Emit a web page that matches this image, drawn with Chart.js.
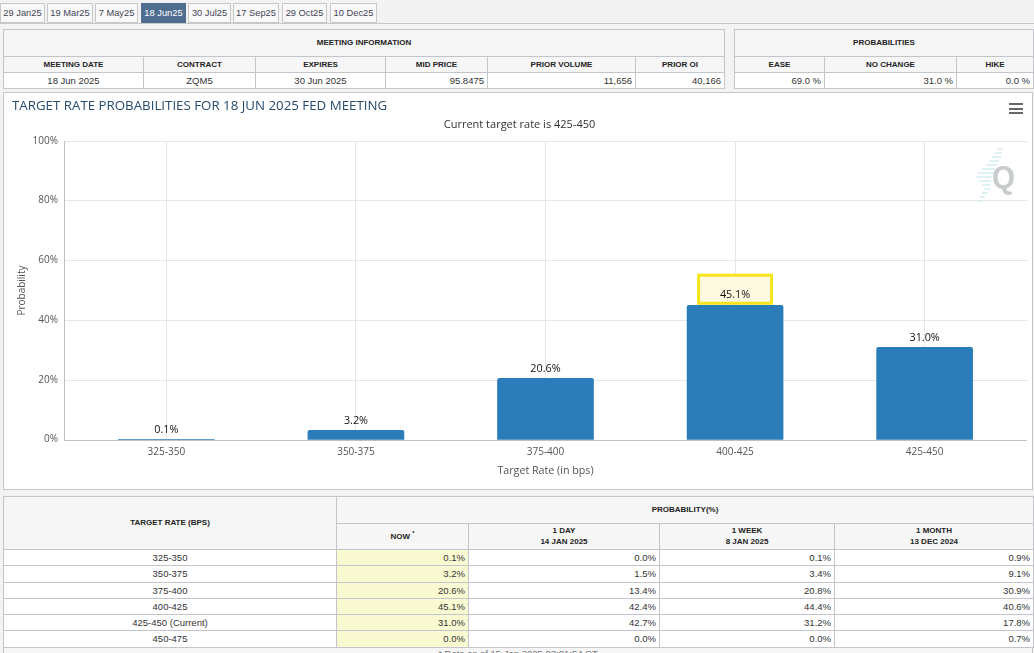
<!DOCTYPE html>
<html><head><meta charset="utf-8">
<script src="https://cdn.jsdelivr.net/npm/chart.js@4"></script>
<style>
html,body{margin:0;padding:0;width:1034px;height:653px;overflow:hidden;background:#f3f3f3;font-family:"Liberation Sans",Arial,sans-serif;color:#333}
.tab{position:absolute;top:3px;height:20px;box-sizing:border-box;border:1px solid #c8c8c8;background:#f8f8f8;font-size:9.3px;line-height:19px;text-align:center;color:#445}
.tab.on{background:#4f6d8f;color:#fff;border-color:#4f6d8f}
#rule{position:absolute;left:0;top:23px;width:1034px;height:1px;background:#c8c8c8}
table{position:absolute;border-collapse:collapse;table-layout:fixed;background:#fff}
td,th{border:1px solid #c3c5ca;padding:0 3px;font-size:9.5px;font-weight:normal;white-space:nowrap;overflow:hidden;box-sizing:border-box;line-height:11px}
th{background:#f6f6f6;font-weight:bold;font-size:8px;color:#222;text-align:center;padding-bottom:1px}
#t3 td{padding-bottom:1px}
td.c{text-align:center}td.r{text-align:right}td.n{background:#fafad2}
#panel{position:absolute;left:3px;top:92px;width:1030px;height:398px;box-sizing:border-box;border:1px solid #c3c5ca;background:#fff}
#wrap{position:absolute;left:12px;top:93px;width:1015px;height:396px}
#foot{position:absolute;left:3px;top:647px;width:1030px;height:12px;box-sizing:border-box;border:1px solid #c3c5ca;background:#f6f6f6;font-size:9.5px;line-height:11px;text-align:center;color:#777}
#menu{position:absolute;left:1009px;top:103px;width:14px}
#menu i{display:block;height:2px;background:#666;margin-bottom:2.5px}
#mark{position:absolute;left:973px;top:145px;width:44px;height:60px}
</style></head><body>
<div id="tabs"></div><div id="rule"></div>
<table id="t1" style="left:3px;top:29px;width:722px"></table>
<table id="t2" style="left:734px;top:29px;width:299px"></table>
<div id="panel"></div>
<div id="wrap"><canvas id="c" width="1015" height="396"></canvas></div>
<div id="menu"><i></i><i></i><i></i></div>
<svg id="mark" viewBox="0 0 44 60"><g stroke="#d3eef3" stroke-width="1.5"><path d="M24 4h6M22 8h7M19 12h9M16 16h10M13 20h11M9 24h13M5 28h16M3 32h16M6 36h12M9 40h8M11 44h6M9 48h6M7 52h5M5 56h4"/></g><text x="19" y="43" font-family="Liberation Sans" font-weight="bold" font-size="32" fill="#c9cccc" textLength="23" lengthAdjust="spacingAndGlyphs">Q</text></svg>
<table id="t3" style="left:3px;top:496px;width:1030px"></table>
<div id="foot">* Data as of 15 Jan 2025 03:01:54 CT</div>
<script>
const tabLabels=["29 Jan25","19 Mar25","7 May25","18 Jun25","30 Jul25","17 Sep25","29 Oct25","10 Dec25"];
const meetingHeaders=["MEETING DATE","CONTRACT","EXPIRES","MID PRICE","PRIOR VOLUME","PRIOR OI"];
const meetingValues=["18 Jun 2025","ZQM5","30 Jun 2025","95.8475","11,656","40,166"];
const probHeaders=["EASE","NO CHANGE","HIKE"];
const probValues=["69.0 %","31.0 %","0.0 %"];
const categories=["325-350","350-375","375-400","400-425","425-450"];
const probabilities=[0.1,3.2,20.6,45.1,31.0];
const tableRates=["325-350","350-375","375-400","400-425","425-450 (Current)","450-475"];
const nowCol=[0.1,3.2,20.6,45.1,31.0,0.0];
const dayCol=[0.0,1.5,13.4,42.4,42.7,0.0];
const weekCol=[0.1,3.4,20.8,44.4,31.2,0.0];
const monthCol=[0.9,9.1,30.9,40.6,17.8,0.7];
const highlighted=3;

const tabBoxes=[[0,45],[47,46],[95,43],[141,45],[188,43],[233,46],[282,45],[330,47]];
document.getElementById('tabs').innerHTML=tabLabels.map((t,i)=>`<div class="tab${i==highlighted?' on':''}" style="left:${tabBoxes[i][0]}px;width:${tabBoxes[i][1]}px">${t}</div>`).join('');
const cols=w=>'<colgroup>'+w.map(x=>`<col style="width:${x}px">`).join('')+'</colgroup>';
document.getElementById('t1').innerHTML=cols([140,112,130,102,148,89])+
 `<tr style="height:27px"><th colspan="6">MEETING INFORMATION</th></tr><tr style="height:16px">${meetingHeaders.map(h=>`<th>${h}</th>`).join('')}</tr>
  <tr style="height:16px">${meetingValues.map((v,i)=>`<td class="${i<3?'c':'r'}">${v}</td>`).join('')}</tr>`;
document.getElementById('t2').innerHTML=cols([90,132,77])+
 `<tr style="height:27px"><th colspan="3">PROBABILITIES</th></tr><tr style="height:16px">${probHeaders.map(h=>`<th>${h}</th>`).join('')}</tr>
  <tr style="height:16px">${probValues.map(v=>`<td class="r">${v}</td>`).join('')}</tr>`;
const f=v=>v.toFixed(1)+'%';
document.getElementById('t3').innerHTML=cols([333,132,191,175,199])+
 `<tr style="height:27px"><th rowspan="2">TARGET RATE (BPS)</th><th colspan="4">PROBABILITY(%)</th></tr>
  <tr style="height:26px"><th>NOW <sup style="font-size:6px;line-height:0">*</sup></th><th>1 DAY<br>14 JAN 2025</th><th>1 WEEK<br>8 JAN 2025</th><th>1 MONTH<br>13 DEC 2024</th></tr>`+
 tableRates.map((r,i)=>`<tr style="height:${[16,17,16,16,16,17][i]}px"><td class="c">${r}</td><td class="r n">${f(nowCol[i])}</td><td class="r">${f(dayCol[i])}</td><td class="r">${f(weekCol[i])}</td><td class="r">${f(monthCol[i])}</td></tr>`).join('');

const FONT='"Open Sans"';
const labelPlugin={id:'barLabels',
 afterDatasetsDraw(ch){
  const ctx=ch.ctx;ctx.save();
  ch.getDatasetMeta(0).data.forEach((el,i)=>{
   if(i===highlighted){
     ctx.fillStyle='#fef9e1';ctx.strokeStyle='#f7e51c';ctx.lineWidth=3;
     ctx.beginPath();ctx.rect(el.x-36.5,el.y-30,73,28);ctx.fill();ctx.stroke();
   }
   ctx.fillStyle='#111';ctx.font='10.8px '+FONT;ctx.textAlign='center';ctx.textBaseline='middle';
   ctx.fillText(probabilities[i].toFixed(1)+'%',el.x,el.y-(i===highlighted?10.5:9.5));
  });
  ctx.restore();
 }};
new Chart(document.getElementById('c'),{
 type:'bar',
 data:{datasets:[{data:probabilities.map((y,x)=>({x,y})),backgroundColor:'#2a7db8',
   borderRadius:{topLeft:2,topRight:2},borderSkipped:'bottom',barThickness:96}]},
 plugins:[labelPlugin],
 options:{responsive:false,animation:false,
  layout:{padding:{left:0,right:0,top:0,bottom:8}},
  plugins:{legend:{display:false},tooltip:{enabled:false},
   title:{display:true,text:'TARGET RATE PROBABILITIES FOR 18 JUN 2025 FED MEETING',align:'start',color:'#274b6d',
     font:{family:FONT,size:13.3,weight:'normal'},padding:{top:5,bottom:0}},
   subtitle:{display:true,text:'Current target rate is 425-450',color:'#333',
     font:{family:FONT,size:11,weight:'normal'},padding:{top:4.5,bottom:9.5}}},
  scales:{
   x:{type:'linear',min:-0.54,max:4.54,offset:false,
     afterBuildTicks(s){s.ticks=categories.map((_,i)=>({value:i}));},
     afterFit(s){s.height=41;},
     ticks:{callback:v=>categories[v],color:'#555',font:{family:FONT,size:10},maxRotation:0,padding:6},
     grid:{color:'#e6e6e6',drawTicks:false,offset:false},border:{color:'#c0c0c0',z:1},
     title:{display:true,text:'Target Rate (in bps)',color:'#555',font:{family:FONT,size:10.7},padding:{top:6}}},
   y:{min:0,max:100,
     ticks:{stepSize:20,callback:v=>v+'%',color:'#555',font:{family:FONT,size:10},padding:6,labelOffset:-0.5},
     afterFit(s){s.width=52;},
     grid:{color:'#e6e6e6',drawTicks:false},border:{color:'#c0c0c0'},
     title:{display:true,text:'Probability',color:'#555',font:{family:FONT,size:10},padding:{bottom:4}}}
  }}
});
</script>
</body></html>
